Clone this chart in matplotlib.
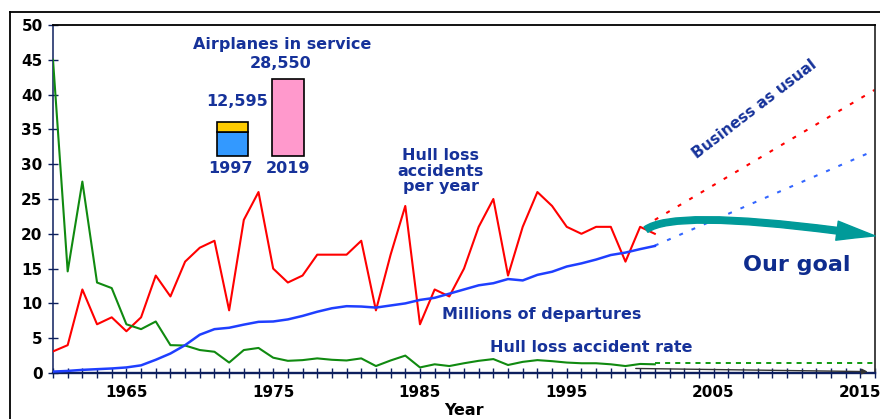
import numpy as np
import matplotlib.pyplot as plt
from matplotlib.patches import FancyArrowPatch, ArrowStyle
from matplotlib.path import Path
from matplotlib.lines import Line2D

plt.rcParams['font.family'] = ['DejaVu Sans']
plt.rcParams['font.weight'] = 'bold'

# yearly history
years = np.arange(1960, 2002)
hull_losses = [3.1, 4, 12, 7, 8, 6, 8, 14, 11, 16,
               18, 19, 9, 22, 26, 15, 13, 14, 17, 17,
               17, 19, 9, 17, 24, 7, 12, 11, 15, 21,
               25, 14, 21, 26, 24, 21, 20, 21, 21, 16,
               21, 20]
departures = [0.2, 0.3, 0.45, 0.55, 0.65, 0.8, 1.1, 1.9, 2.8, 4.0,
              5.5, 6.3, 6.5, 6.95, 7.35, 7.4, 7.7, 8.2, 8.8, 9.3,
              9.6, 9.55, 9.4, 9.7, 10.0, 10.5, 10.8, 11.4, 12.0, 12.6,
              12.9, 13.5, 13.3, 14.1, 14.55, 15.3, 15.75, 16.3, 16.95, 17.3,
              17.8, 18.25]
loss_rate = [45, 14.6, 27.5, 13, 12.2, 7, 6.3, 7.4, 4, 3.95,
             3.3, 3.05, 1.5, 3.3, 3.6, 2.2, 1.75, 1.85, 2.1, 1.9,
             1.8, 2.1, 1.0, 1.8, 2.5, 0.8, 1.25, 1.0, 1.4, 1.75,
             2.0, 1.15, 1.6, 1.85, 1.7, 1.5, 1.4, 1.4, 1.25, 1.0,
             1.3, 1.25]

# "business as usual" projections
proj_years = [2001, 2016]
proj_losses = [22, 40.7]
proj_departures = [18.3, 32]
goal_rate = [1.5, 1.5]

# airplanes in service inset
fleet_labels = ['1997', '2019']
fleet_main = [8900, 28550]
fleet_top = [3695]
fleet_totals = ['12,595', '28,550']

navy = '#0d1f5e'
txt_blue = '#16329a'
W, H = 880, 419


def px(x, y):
    return x / W, 1 - y / H


fig = plt.figure(figsize=(8.8, 4.19), dpi=100)
ax = fig.add_axes([53 / W, 1 - 373 / H, (875 - 53) / W, (373 - 25) / H])

ax.plot(years, hull_losses, color='#ff0000', lw=1.5, zorder=3)
ax.plot(years, loss_rate, color='#108a10', lw=1.5, zorder=3)
ax.plot(years, departures, color='#1f3fff', lw=1.8, zorder=3)
ax.plot(proj_years, proj_losses, color='#ff0000', lw=1.5, ls=(0, (1.9, 4.5)))
ax.plot(proj_years, proj_departures, color='#3366ff', lw=1.5, ls=(0, (1.9, 4.5)))
ax.plot(proj_years, goal_rate, color='#119a11', lw=1.4, ls=(0, (2.6, 2.6)), zorder=4)

ax.annotate('', xy=(2015.5, 0.2), xytext=(1999.7, 0.65),
            arrowprops=dict(arrowstyle='-|>', color='#333333', lw=1,
                            mutation_scale=8, shrinkA=0, shrinkB=0))

goal_path = Path([(2000.4, 20.6), (2002.5, 23.8), (2016, 19.7)],
                 [Path.MOVETO, Path.CURVE3, Path.CURVE3])
goal_arrow = FancyArrowPatch(path=goal_path,
                             arrowstyle=ArrowStyle.Simple(head_length=2.3, head_width=1.15, tail_width=0.4),
                             mutation_scale=12, color='#009a99', zorder=5, clip_on=False)
ax.add_patch(goal_arrow)

ax.set_xlim(1960, 2016)
ax.set_ylim(0, 50)
ax.set_xticks(range(1965, 2016, 10))
ax.set_xticks(range(1960, 2017), minor=True)
ax.set_yticks(range(0, 51, 5))
ax.tick_params(axis='x', which='both', direction='inout', length=7, width=1,
               color=navy, pad=5, labelsize=11)
ax.tick_params(axis='y', direction='inout', length=7, width=1,
               color=navy, pad=4, labelsize=11)
ax.set_xlabel('Year', fontsize=11.5, fontweight='bold', labelpad=2)

ax.spines['left'].set(color=navy, lw=1.1)
ax.spines['bottom'].set(color=navy, lw=1.7)
ax.spines['top'].set(color='black', lw=1.3)
ax.spines['right'].set(color='#333333', lw=1.3)

# outer frame
fig.add_artist(Line2D([10 / W, 10 / W], [0, 1 - 12 / H], color='black', lw=1.3))
fig.add_artist(Line2D([10 / W, 1], [1 - 12 / H, 1 - 12 / H], color='black', lw=1.3))

# inset bars
ax_in = fig.add_axes([204.75 / W, 1 - 156 / H, 111 / W, 76.7 / H])
ax_in.bar([0, 1], fleet_main, width=0.57, color=['#3399ff', '#ff99cc'],
          edgecolor='black', lw=1.2, clip_on=False)
ax_in.bar([0], fleet_top, bottom=fleet_main[:1], width=0.57, color='#ffcc00',
          edgecolor='black', lw=1.2, clip_on=False)
ax_in.set_xlim(-0.5, 1.5)
ax_in.set_ylim(0, 28550)
ax_in.axis('off')

fig.text(*px(282.5, 45), 'Airplanes in service', ha='center', va='center',
         fontsize=11.5, color=txt_blue)
fig.text(*px(281, 63), fleet_totals[1], ha='center', va='center', fontsize=11.5, color=txt_blue)
fig.text(*px(237.5, 102), fleet_totals[0], ha='center', va='center', fontsize=11.5, color=txt_blue)
fig.text(*px(230, 168), fleet_labels[0], ha='center', va='center', fontsize=11.5, color=txt_blue)
fig.text(*px(288, 168), fleet_labels[1], ha='center', va='center', fontsize=11.5, color=txt_blue)

fig.text(*px(441, 171), 'Hull loss\naccidents\nper year', ha='center', va='center',
         ma='center', linespacing=1.0, fontsize=11.5, color=txt_blue)
fig.text(*px(542, 315), 'Millions of departures', ha='center', va='center',
         fontsize=11.5, color=txt_blue)
fig.text(*px(591, 347), 'Hull loss accident rate', ha='center', va='center',
         fontsize=11.5, color=txt_blue)
fig.text(*px(755, 109), 'Business as usual', ha='center', va='center', rotation=37.5,
         rotation_mode='anchor', fontsize=11, color=txt_blue)
fig.text(*px(797, 265), 'Our goal', ha='center', va='center', fontsize=16, color='#0e2c8e')

fig.savefig('out.png', dpi=100)
